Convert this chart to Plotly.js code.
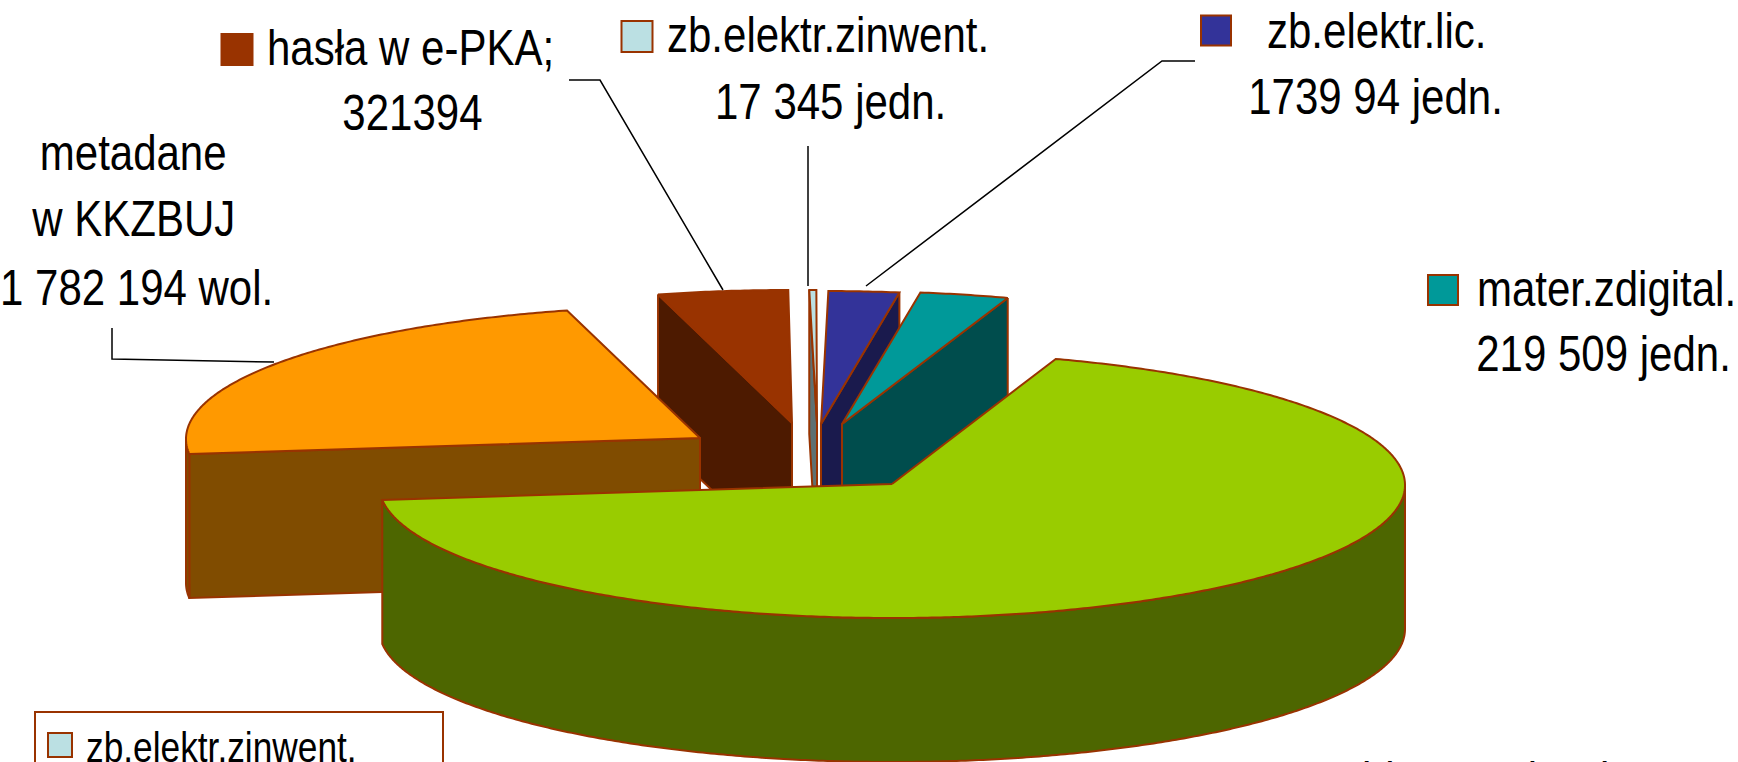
<!DOCTYPE html>
<html><head><meta charset="utf-8">
<script src="https://cdn.plot.ly/plotly-3.0.1.min.js"></script>
<style>html,body{margin:0;padding:0;background:#fff;overflow:hidden}#c{width:1738px;height:762px}</style>
</head><body><div id="c"></div>
<script>
// DATA (clockwise from the top of the pie)
const categories = ['zb.elektr.lic.', 'mater.zdigital.', 'zbiory tradycyjne', 'metadane w KKZBUJ', 'hasła w e-PKA', 'zb.elektr.zinwent.'];
const values = [173994, 219509, 5350000, 1782194, 321394, 17345]; // the large slice's value is not legible: estimated from its angle

// STYLE
const topColors  = ['#333399', '#009999', '#99CC00', '#FF9900', '#993300', '#BBE0E3'];
const wallColors = ['#1A1A4D', '#004D4D', '#4D6600', '#804C00', '#4D1A00', '#5E7072'];
const edgeColor = '#993300';
const FONT = "'Liberation Sans',Arial,sans-serif";
const textSqueeze = 0.84;

// 3-D PROJECTION of the exploded pie
const startAngle = 89.4, rx = 513, ry = 133, depth = 144;
const apexX = [821, 842, 892, 700, 792, 817];
const apexY = [424, 424, 484, 438, 423, 423];
const arcX  = [823, 844, 892, 699, 790, 811];
const arcY  = [424, 424, 485, 439, 423, 423];
const radialWall = ['end', 'end', null, 'start', 'start', 'start'];
const drawOrder = [4, 5, 0, 1, 3, 2];

const total = values.reduce((a, b) => a + b, 0);
const traces = [];
function poly(pts, fill) {
  traces.push({type: 'scatter', mode: 'lines', x: pts.map(p => p[0]), y: pts.map(p => p[1]),
    fill: 'toself', fillcolor: fill, line: {color: edgeColor, width: 2, simplify: false},
    hoverinfo: 'skip', showlegend: false});
}
let acc = startAngle;
const spans = values.map(v => { const s = acc; acc -= v / total * 360; return [s, acc]; });
const rad = d => d * Math.PI / 180;
const arcPt = (i, a, dy) => [arcX[i] + rx * Math.cos(rad(a)), arcY[i] - ry * Math.sin(rad(a)) + (dy || 0)];
function sweep(i, a0, a1, dy) {
  const out = [], n = Math.max(2, Math.ceil(Math.abs(a0 - a1) * 2));
  for (let k = 0; k <= n; k++) out.push(arcPt(i, a0 + (a1 - a0) * k / n, dy));
  return out;
}
drawOrder.forEach(i => {
  const [a0, a1] = spans[i];
  const ax = apexX[i], ay = apexY[i];
  if (radialWall[i]) {
    const e = arcPt(i, radialWall[i] === 'start' ? a0 : a1);
    poly([e, [ax, ay], [ax, ay + depth], [e[0], e[1] + depth], e], wallColors[i]);
  }
  const w0 = Math.min(a0, 0), w1 = Math.max(a1, -180);
  if (w0 > w1) {
    const top = sweep(i, w0, w1), bot = sweep(i, w1, w0, depth);
    poly(top.concat(bot, [top[0]]), wallColors[i]);
  }
  const t = sweep(i, a0, a1);
  poly([[ax, ay]].concat(t, [[ax, ay]]), topColors[i]);
});

// Leader lines
const leaders = [
  [[112, 328], [112, 359], [274, 362]],
  [[569, 80], [600, 80], [723, 290]],
  [[808, 146], [808, 286]],
  [[1195, 61], [1162, 61], [866, 286]]
];
leaders.forEach(l => traces.push({type: 'scatter', mode: 'lines', x: l.map(p => p[0]), y: l.map(p => p[1]),
  line: {color: '#000', width: 1.5}, hoverinfo: 'skip', showlegend: false}));

// Legend keys
const keyX = [1216, 1443, 237, 637, 60];
const keyY = [30.5, 290, 49.5, 36.5, 745];
const keySize = [30, 30, 31, 31, 24];
const keyColor = ['#333399', '#009999', '#993300', '#BBE0E3', '#BBE0E3'];
traces.push({type: 'scatter', mode: 'markers', x: keyX, y: keyY,
  marker: {symbol: 'square', size: keySize, color: keyColor, opacity: 1, line: {color: edgeColor, width: 2}},
  hoverinfo: 'skip', showlegend: false});

const fs = 50;
const txt = (text, x, y, anchor, size) => ({text, x: x / 1738, y: 1 - y / 762, xref: 'paper', yref: 'paper',
  xanchor: anchor, yanchor: 'middle', showarrow: false, align: anchor,
  font: {family: FONT, size: size || fs, color: '#000'}});
const annotations = [
  txt('hasła w e-PKA;', 265, 48, 'left'),
  txt('321394', 412, 113, 'center'),
  txt('zb.elektr.zinwent.', 665, 35, 'left'),
  txt('17 345 jedn.', 830, 102, 'center'),
  txt('zb.elektr.lic.', 1265, 31, 'left'),
  txt('1739 94 jedn.', 1375, 97, 'center'),
  txt('mater.zdigital.', 1475, 289, 'left'),
  txt('219 509 jedn.', 1603, 354, 'center'),
  txt('metadane', 133, 153, 'center'),
  txt('w KKZBUJ', 133, 219, 'center'),
  txt('1 782 194 wol.', 136, 288, 'center'),
  txt('zb.elektr.zinwent.', 84, 747, 'left', 42),
  txt('zbiory tradycyjne', 1339, 780, 'left')
];
const layout = {
  width: 1738, height: 762, margin: {l: 0, r: 0, t: 0, b: 0}, paper_bgcolor: '#fff', plot_bgcolor: '#fff',
  xaxis: {range: [0, 1738], visible: false, fixedrange: true},
  yaxis: {range: [762, 0], visible: false, fixedrange: true},
  showlegend: false, annotations,
  shapes: [{type: 'rect', xref: 'x', yref: 'y', x0: 35, x1: 443, y0: 712, y1: 800, line: {color: edgeColor, width: 2}, fillcolor: 'rgba(0,0,0,0)', layer: 'below'}]
};
Plotly.newPlot('c', traces, layout, {displayModeBar: false, staticPlot: true}).then(() => {
  document.querySelectorAll('#c .annotation-text').forEach(t => {
    t.setAttribute('textLength', t.getComputedTextLength() * textSqueeze);
    t.setAttribute('lengthAdjust', 'spacingAndGlyphs');
  });
});
</script></body></html>
